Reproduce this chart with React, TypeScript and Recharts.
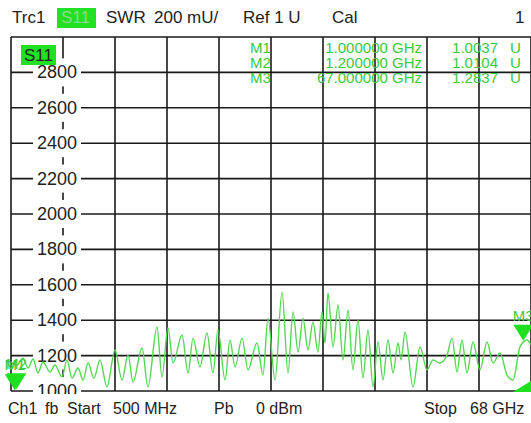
import React from 'react';
import {LineChart, Line, XAxis, YAxis, CartesianGrid, ReferenceDot} from 'recharts';

// trace (GHz / SWR in mU)
const freqGHz = [
    0.5, 1.28, 2.06, 2.71, 3.36, 4.0, 4.65, 5.56, 6.21, 7.12,
    7.77, 8.42, 9.2, 9.85, 10.5, 11.27, 12.05, 12.96, 14.0, 14.91,
    15.69, 16.34, 17.51, 18.28, 19.45, 20.1, 20.88, 21.53, 22.7, 23.48,
    24.13, 25.03, 25.94, 26.72, 27.37, 28.28, 28.93, 29.58, 30.49, 31.26,
    32.43, 33.21, 33.86, 34.77, 35.68, 36.46, 37.11, 37.76, 38.4, 39.05,
    39.7, 40.35, 40.87, 41.26, 41.65, 42.3, 42.95, 43.6, 44.25, 44.89,
    45.54, 46.19, 46.84, 47.49, 48.14, 48.79, 49.44, 50.09, 50.74, 51.13,
    51.65, 52.68, 53.59, 54.5, 55.28, 56.19, 57.1, 57.75, 58.4, 59.04,
    59.69, 60.47, 61.38, 62.29, 63.07, 63.98, 64.89, 65.67, 66.57, 67.48,
    68.0,
];
const swrMU = [
    1164, 1147, 1186, 1130, 1181, 1102, 1164, 1107, 1147, 1079,
    1175, 1073, 1130, 1062, 1158, 1073, 1175, 1023, 1232, 1062,
    1203, 1051, 1243, 1023, 1362, 1079, 1356, 1158, 1316, 1102,
    1299, 1136, 1328, 1102, 1345, 1062, 1288, 1136, 1299, 1119,
    1271, 1090, 1412, 1062, 1559, 1102, 1446, 1220, 1412, 1232,
    1390, 1220, 1446, 1271, 1554, 1249, 1486, 1175, 1458, 1119,
    1401, 1073, 1345, 1023, 1277, 1062, 1288, 1102, 1271, 1175,
    1333, 1023, 1249, 1119, 1175, 1158, 1203, 1299, 1107, 1288,
    1102, 1277, 1119, 1277, 1158, 1215, 1090, 1062, 1249, 1288,
    1260,
];

const xTicks = [0.5, 7.25, 14, 20.75, 27.5, 34.25, 41, 47.75, 54.5, 61.25, 68];
const yTicks = [1000, 1200, 1400, 1600, 1800, 2000, 2200, 2400, 2600, 2800, 3000];

const markerNames = ['M1', 'M2', 'M3'];
const markerFreqs = [1.0, 1.2, 67.0];
const markerValues = [1.0037, 1.0104, 1.2837];

const data = freqGHz.map((f, i) => ({f, v: swrMU[i]}));

const TRACE = '#52d852';
const MARK = '#1ee01e';
const FONT = '"Liberation Sans", Arial, sans-serif';
const W = 531;
const H = 423;

const renderYTick = (props: any) => {
    const {y, payload} = props;
    if (payload.value === 3000) return <g key="top"/>;
    return (
        <g key={payload.value}>
            <rect x={33} y={y - 14} width={48} height={28} fill="#fff"/>
            <text x={57} y={y + 6} textAnchor="middle" fontSize={18} fontFamily={FONT} fill="#222">
                {payload.value}
            </text>
        </g>
    );
};

const MarkerShape = (name: string) => (props: any) => {
    const {cx, cy} = props;
    return (
        <g>
            <polygon points={`${cx - 10},${cy - 16} ${cx + 10},${cy - 16} ${cx},${cy}`} fill={MARK}/>
            <text x={cx} y={cy - 20} textAnchor="middle" fontSize={15} fontFamily={FONT} fill="#3cc83c">
                {name}
            </text>
        </g>
    );
};

const abs: React.CSSProperties = {position: 'absolute', left: 0, top: 0};

const App: React.FC = () => {
    return (
        <div style={{...abs, width: W, height: H, background: '#fff', overflow: 'hidden'}}>
            {/* grid + scale labels underneath */}
            <div style={abs}>
                <LineChart width={W} height={H} data={data}
                           margin={{top: 37, right: 0, bottom: 32, left: 10}}>
                    <CartesianGrid stroke="#1a1a1a" strokeWidth={1.6}/>
                    <XAxis dataKey="f" type="number" domain={[0.5, 68]} ticks={xTicks} hide/>
                    <YAxis dataKey="v" type="number" domain={[1000, 3000]} ticks={yTicks} width={1}
                           allowDataOverflow axisLine={false} tickLine={false} tick={renderYTick} interval={0}/>
                </LineChart>
            </div>

            {/* trace + markers on top */}
            <div style={abs}>
                <LineChart width={W} height={H} data={data}
                           margin={{top: 37, right: 0, bottom: 32, left: 11}}>
                    <XAxis dataKey="f" type="number" domain={[0.5, 68]} ticks={xTicks} hide/>
                    <YAxis type="number" domain={[1000, 3000]} ticks={yTicks} hide/>
                    <Line type="monotone" dataKey="v" stroke={TRACE} strokeWidth={1.4}
                          dot={false} isAnimationActive={false}/>
                    {markerNames.map((n, i) => (
                        <ReferenceDot key={n} x={markerFreqs[i]} y={markerValues[i] * 1000}
                                      ifOverflow="visible" shape={MarkerShape(n)}/>
                    ))}
                </LineChart>
            </div>

            {/* screen texts round the diagram */}
            <svg width={W} height={H} style={abs} fontFamily={FONT}>
                <rect x={0} y={0} width={W} height={36} fill="#fff"/>
                <rect x={0} y={394} width={W} height={29} fill="#fff"/>
                <g fontSize={17} fill="#222">
                    <text x={12} y={23}>Trc1</text>
                    <rect x={57} y={8} width={39} height={20} fill="#22e022"/>
                    <text x={61} y={23} fill="#8fd88f">S11</text>
                    <text x={106} y={23}>SWR</text>
                    <text x={154} y={23}>200 mU/</text>
                    <text x={243} y={23}>Ref 1 U</text>
                    <text x={332} y={23}>Cal</text>
                    <text x={515} y={23}>1</text>
                </g>
                <rect x={21} y={45} width={35} height={20} fill="#22e022"/>
                <text x={24} y={61} fontSize={17} fill="#222">S11</text>
                <g fontSize={15} fill="#3cc83c">
                    {markerNames.map((n, i) => (
                        <g key={n}>
                            <text x={250} y={53 + i * 15}>{n}</text>
                            <text x={422} y={53 + i * 15} textAnchor="end">{markerFreqs[i].toFixed(6)} GHz</text>
                            <text x={498} y={53 + i * 15} textAnchor="end">{markerValues[i].toFixed(4)}</text>
                            <text x={510} y={53 + i * 15}>U</text>
                        </g>
                    ))}
                </g>
                <polygon points="513,392 531,381 531,392" fill={MARK}/>
                <g fontSize={16} fill="#222">
                    <text x={8} y={414}>Ch1</text>
                    <text x={45} y={414}>fb</text>
                    <text x={67} y={414}>Start</text>
                    <text x={113} y={414}>500 MHz</text>
                    <text x={214} y={414}>Pb</text>
                    <text x={256} y={414}>0 dBm</text>
                    <text x={424} y={414}>Stop</text>
                    <text x={470} y={414}>68 GHz</text>
                </g>
            </svg>
        </div>
    );
};

export default App;
